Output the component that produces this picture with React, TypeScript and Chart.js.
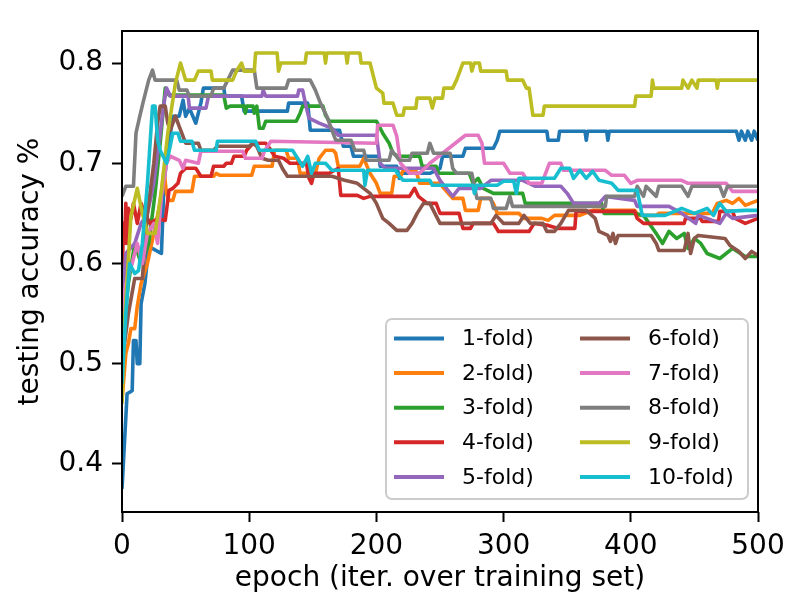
import { useEffect, useRef } from "react"
import { Chart, registerables, type ChartConfiguration, type Plugin } from "chart.js"

Chart.register(...registerables)

// [epoch, testing accuracy] breakpoints
const fold1 = [
  [0, 0.375], [4, 0.47], [8, 0.473], [9, 0.523], [11, 0.523], [12, 0.5], [14, 0.5], [15, 0.56], [18, 0.58],
  [21, 0.617], [31, 0.61], [33, 0.68], [36, 0.713], [40, 0.747], [45, 0.747], [48, 0.763], [50, 0.747],
  [53, 0.755], [58, 0.74], [62, 0.76], [64, 0.775], [80, 0.775], [81, 0.767], [94, 0.767], [96, 0.752],
  [130, 0.752], [131, 0.76], [146, 0.76], [148, 0.733], [171, 0.733], [174, 0.717], [180, 0.717],
  [182, 0.707], [202, 0.707], [203, 0.697], [216, 0.697], [218, 0.685], [220, 0.69], [242, 0.69],
  [250, 0.695], [252, 0.707], [268, 0.707], [270, 0.715], [292, 0.715], [295, 0.723], [297, 0.732],
  [334, 0.732], [335, 0.723], [343, 0.723], [344, 0.732], [364, 0.732], [365, 0.723], [366, 0.732],
  [381, 0.732], [382, 0.723], [383, 0.732], [483, 0.732], [485, 0.723], [487, 0.732], [490, 0.723],
  [492, 0.732], [495, 0.723], [497, 0.732], [500, 0.723],
]
const fold2 = [
  [0, 0.463], [3, 0.51], [5, 0.52], [7, 0.535], [10, 0.535], [12, 0.557], [15, 0.58], [20, 0.6], [25, 0.63],
  [30, 0.66], [33, 0.693], [35, 0.67], [37, 0.663], [40, 0.663], [42, 0.672], [55, 0.672], [57, 0.687],
  [72, 0.687], [74, 0.69], [77, 0.688], [102, 0.688], [104, 0.697], [118, 0.697], [120, 0.713], [129, 0.713],
  [131, 0.705], [138, 0.705], [140, 0.69], [152, 0.69], [155, 0.705], [160, 0.713], [166, 0.713], [168, 0.71],
  [170, 0.697], [187, 0.697], [190, 0.705], [195, 0.69], [200, 0.68], [203, 0.67], [212, 0.67], [214, 0.687],
  [219, 0.687], [221, 0.693], [231, 0.693], [234, 0.68], [250, 0.68], [253, 0.675], [260, 0.665], [268, 0.665],
  [270, 0.653], [280, 0.653], [282, 0.665], [289, 0.665], [292, 0.66], [295, 0.65], [312, 0.65], [316, 0.645],
  [330, 0.645], [335, 0.643], [340, 0.648], [360, 0.648], [370, 0.653], [403, 0.653], [406, 0.648],
  [420, 0.648], [422, 0.65], [464, 0.65], [468, 0.66], [475, 0.663], [480, 0.66], [485, 0.665], [490, 0.658],
  [500, 0.663],
]
const fold3 = [
  [0, 0.52], [5, 0.58], [10, 0.62], [15, 0.6], [21, 0.62], [26, 0.67], [30, 0.72], [34, 0.775], [37, 0.768],
  [80, 0.768], [82, 0.755], [85, 0.757], [96, 0.757], [97, 0.75], [98, 0.757], [103, 0.757], [104, 0.75],
  [106, 0.757], [108, 0.735], [111, 0.735], [113, 0.742], [137, 0.742], [140, 0.75], [142, 0.757],
  [158, 0.757], [160, 0.748], [163, 0.742], [200, 0.742], [205, 0.73], [210, 0.72], [213, 0.71], [217, 0.707],
  [234, 0.707], [236, 0.697], [247, 0.697], [249, 0.69], [273, 0.69], [276, 0.68], [280, 0.685], [284, 0.675],
  [292, 0.67], [315, 0.67], [317, 0.66], [377, 0.66], [379, 0.65], [403, 0.65], [410, 0.648], [420, 0.63],
  [425, 0.62], [430, 0.632], [436, 0.625], [442, 0.63], [445, 0.615], [450, 0.625], [455, 0.62], [460, 0.61],
  [470, 0.605], [480, 0.615], [490, 0.607], [500, 0.607],
]
const fold4 = [
  [0, 0.56], [1, 0.64], [2, 0.62], [3, 0.66], [4, 0.62], [5, 0.655], [7, 0.645], [9, 0.66], [12, 0.64],
  [15, 0.66], [18, 0.65], [22, 0.64], [28, 0.645], [34, 0.643], [37, 0.673], [40, 0.675], [44, 0.68],
  [46, 0.69], [50, 0.695], [58, 0.695], [62, 0.687], [70, 0.687], [72, 0.697], [80, 0.697], [82, 0.7],
  [86, 0.7], [88, 0.707], [96, 0.707], [98, 0.713], [103, 0.72], [113, 0.72], [116, 0.715], [120, 0.707],
  [127, 0.705], [132, 0.7], [145, 0.7], [147, 0.685], [149, 0.68], [151, 0.69], [163, 0.69], [170, 0.695],
  [172, 0.668], [185, 0.668], [190, 0.665], [195, 0.667], [226, 0.667], [230, 0.675], [233, 0.667],
  [240, 0.66], [247, 0.66], [250, 0.65], [265, 0.65], [268, 0.635], [274, 0.635], [276, 0.64], [292, 0.64],
  [296, 0.632], [320, 0.632], [324, 0.64], [335, 0.638], [343, 0.635], [356, 0.635], [357, 0.652],
  [403, 0.652], [405, 0.645], [410, 0.64], [442, 0.64], [443, 0.645], [455, 0.645], [456, 0.642],
  [469, 0.642], [470, 0.652], [480, 0.652], [482, 0.645], [490, 0.64], [500, 0.645],
]
const fold5 = [
  [0, 0.55], [3, 0.61], [10, 0.62], [15, 0.64], [20, 0.65], [25, 0.68], [30, 0.73], [33, 0.76], [35, 0.775],
  [38, 0.767], [52, 0.767], [53, 0.755], [66, 0.755], [68, 0.767], [110, 0.767], [111, 0.773], [113, 0.767],
  [138, 0.767], [139, 0.773], [142, 0.773], [145, 0.755], [147, 0.745], [155, 0.74], [165, 0.735],
  [170, 0.728], [200, 0.728], [203, 0.7], [207, 0.695], [245, 0.695], [250, 0.683], [255, 0.675],
  [260, 0.667], [265, 0.675], [282, 0.675], [290, 0.683], [315, 0.683], [325, 0.677], [345, 0.677],
  [350, 0.67], [355, 0.66], [375, 0.66], [380, 0.667], [403, 0.663], [405, 0.657], [430, 0.657], [440, 0.65],
  [451, 0.64], [453, 0.648], [460, 0.645], [470, 0.64], [475, 0.65], [480, 0.645], [500, 0.648],
]
const fold6 = [
  [0, 0.5], [5, 0.55], [10, 0.585], [16, 0.585], [20, 0.65], [25, 0.7], [28, 0.74], [30, 0.757], [34, 0.757],
  [36, 0.74], [38, 0.733], [42, 0.747], [44, 0.74], [47, 0.73], [50, 0.72], [60, 0.72], [62, 0.713],
  [72, 0.713], [75, 0.717], [100, 0.717], [103, 0.72], [106, 0.717], [110, 0.705], [115, 0.703], [123, 0.703],
  [126, 0.695], [130, 0.687], [165, 0.687], [175, 0.683], [185, 0.68], [195, 0.67], [200, 0.66], [205, 0.645],
  [210, 0.64], [216, 0.633], [224, 0.633], [228, 0.64], [232, 0.65], [237, 0.66], [242, 0.66], [246, 0.65],
  [250, 0.64], [290, 0.64], [294, 0.648], [300, 0.64], [312, 0.64], [316, 0.648], [321, 0.64], [331, 0.64],
  [334, 0.632], [340, 0.632], [345, 0.64], [351, 0.653], [365, 0.653], [372, 0.645], [375, 0.632],
  [382, 0.628], [384, 0.622], [386, 0.63], [388, 0.62], [390, 0.628], [416, 0.628], [420, 0.62],
  [422, 0.613], [442, 0.613], [445, 0.63], [447, 0.61], [450, 0.625], [453, 0.628], [474, 0.625],
  [478, 0.618], [485, 0.612], [490, 0.605], [495, 0.612], [500, 0.608],
]
const fold7 = [
  [0, 0.55], [3, 0.58], [8, 0.6], [12, 0.62], [16, 0.6], [20, 0.63], [25, 0.64], [28, 0.62], [31, 0.667],
  [35, 0.7], [38, 0.707], [45, 0.703], [48, 0.695], [50, 0.703], [60, 0.7], [62, 0.712], [95, 0.712],
  [97, 0.705], [110, 0.705], [112, 0.712], [117, 0.722], [200, 0.72], [201, 0.738], [213, 0.738],
  [216, 0.727], [219, 0.7], [226, 0.69], [234, 0.69], [238, 0.695], [242, 0.7], [252, 0.71], [262, 0.72],
  [270, 0.728], [280, 0.728], [283, 0.72], [285, 0.7], [300, 0.7], [305, 0.69], [315, 0.69], [320, 0.68],
  [330, 0.68], [333, 0.69], [336, 0.7], [345, 0.7], [347, 0.693], [380, 0.693], [385, 0.688], [395, 0.688],
  [400, 0.68], [405, 0.683], [440, 0.683], [445, 0.68], [475, 0.68], [480, 0.672], [500, 0.672],
]
const fold8 = [
  [0, 0.667], [3, 0.677], [9, 0.677], [11, 0.73], [14, 0.747], [17, 0.763], [21, 0.783], [24, 0.793],
  [26, 0.783], [43, 0.783], [45, 0.773], [51, 0.773], [53, 0.767], [70, 0.767], [72, 0.775], [80, 0.775],
  [87, 0.793], [104, 0.793], [106, 0.775], [129, 0.775], [131, 0.783], [148, 0.783], [152, 0.773],
  [156, 0.76], [161, 0.747], [165, 0.733], [168, 0.723], [180, 0.723], [183, 0.713], [190, 0.713],
  [192, 0.703], [210, 0.703], [212, 0.713], [218, 0.703], [226, 0.703], [228, 0.71], [240, 0.71],
  [242, 0.72], [245, 0.71], [258, 0.71], [260, 0.695], [263, 0.69], [275, 0.69], [279, 0.665], [290, 0.665],
  [292, 0.655], [302, 0.655], [305, 0.667], [307, 0.657], [380, 0.657], [381, 0.667], [403, 0.667],
  [405, 0.677], [410, 0.667], [412, 0.677], [420, 0.667], [422, 0.677], [440, 0.677], [445, 0.667],
  [448, 0.677], [470, 0.677], [473, 0.667], [476, 0.677], [500, 0.677],
]
const fold9 = [
  [0, 0.46], [2, 0.54], [7, 0.647], [12, 0.675], [16, 0.65], [20, 0.63], [26, 0.63], [31, 0.673], [36, 0.73],
  [42, 0.78], [46, 0.8], [50, 0.783], [57, 0.783], [60, 0.792], [70, 0.792], [71, 0.783], [87, 0.783],
  [90, 0.792], [94, 0.8], [96, 0.792], [104, 0.792], [105, 0.81], [122, 0.81], [123, 0.792], [125, 0.8],
  [144, 0.8], [145, 0.81], [159, 0.81], [160, 0.8], [161, 0.81], [176, 0.81], [177, 0.8], [178, 0.81],
  [187, 0.81], [188, 0.8], [195, 0.8], [200, 0.775], [205, 0.77], [206, 0.76], [213, 0.76], [216, 0.748],
  [221, 0.748], [222, 0.755], [231, 0.755], [232, 0.765], [242, 0.765], [244, 0.755], [246, 0.765],
  [252, 0.765], [253, 0.775], [260, 0.775], [263, 0.783], [268, 0.8], [274, 0.8], [275, 0.792], [277, 0.8],
  [281, 0.8], [282, 0.792], [302, 0.792], [303, 0.783], [315, 0.783], [318, 0.775], [320, 0.775],
  [323, 0.748], [331, 0.748], [332, 0.757], [403, 0.757], [404, 0.767], [416, 0.767], [417, 0.783],
  [418, 0.775], [440, 0.775], [441, 0.783], [445, 0.775], [448, 0.783], [452, 0.775], [453, 0.783],
  [467, 0.783], [468, 0.775], [469, 0.783], [500, 0.783],
]
const fold10 = [
  [0, 0.48], [3, 0.55], [6, 0.6], [10, 0.59], [13, 0.593], [16, 0.62], [20, 0.68], [24, 0.757], [26, 0.757],
  [28, 0.723], [30, 0.713], [35, 0.7], [40, 0.73], [44, 0.73], [46, 0.722], [55, 0.722], [57, 0.713],
  [74, 0.713], [75, 0.722], [105, 0.722], [108, 0.713], [134, 0.713], [138, 0.705], [142, 0.697],
  [146, 0.707], [149, 0.69], [152, 0.7], [160, 0.7], [165, 0.693], [190, 0.693], [191, 0.678], [193, 0.693],
  [215, 0.693], [218, 0.687], [221, 0.683], [242, 0.683], [244, 0.678], [276, 0.678], [277, 0.67],
  [279, 0.678], [295, 0.678], [300, 0.682], [308, 0.682], [310, 0.67], [312, 0.685], [340, 0.685],
  [345, 0.695], [352, 0.695], [355, 0.685], [360, 0.693], [365, 0.685], [370, 0.692], [375, 0.683],
  [385, 0.68], [390, 0.673], [405, 0.673], [409, 0.648], [427, 0.648], [440, 0.655], [450, 0.65],
  [460, 0.655], [465, 0.648], [470, 0.66], [475, 0.652], [490, 0.653], [500, 0.653],
]

const foldSeries = [fold1, fold2, fold3, fold4, fold5, fold6, fold7, fold8, fold9, fold10]
const foldLabels = [
  "1-fold)", "2-fold)", "3-fold)", "4-fold)", "5-fold)",
  "6-fold)", "7-fold)", "8-fold)", "9-fold)", "10-fold)",
]
const foldColors = [
  "#1f77b4", "#ff7f0e", "#2ca02c", "#d62728", "#9467bd",
  "#8c564b", "#e377c2", "#7f7f7f", "#bcbd22", "#17becf",
]
const xTicks = [0, 100, 200, 300, 400, 500]
const yTicks = [0.4, 0.5, 0.6, 0.7, 0.8]

const FONT = "'DejaVu Sans', sans-serif"

// matplotlib-like frame around the axes
const framePlugin: Plugin = {
  id: "frame",
  afterDraw(chart) {
    const { ctx, chartArea } = chart
    ctx.save()
    ctx.strokeStyle = "#000"
    ctx.lineWidth = 2
    ctx.strokeRect(chartArea.left, chartArea.top, chartArea.right - chartArea.left, chartArea.bottom - chartArea.top)
    ctx.restore()
  },
}

// two-column legend in the lower right, filled column first
const legendPlugin: Plugin = {
  id: "foldLegend",
  afterDraw(chart) {
    const { ctx, chartArea } = chart
    const w = 362
    const h = 180
    const x0 = chartArea.right - 10 - w
    const y0 = chartArea.bottom - 13 - h
    ctx.save()
    ctx.beginPath()
    ctx.roundRect(x0, y0, w, h, 6)
    ctx.fillStyle = "rgba(255,255,255,0.8)"
    ctx.fill()
    ctx.strokeStyle = "#cccccc"
    ctx.lineWidth = 2
    ctx.stroke()
    ctx.font = `22px ${FONT}`
    ctx.textBaseline = "middle"
    chart.data.datasets.forEach((ds, i) => {
      const col = Math.floor(i / 5)
      const row = i % 5
      const lx = x0 + 8 + col * 186
      const ly = y0 + 19.5 + row * 34.6
      ctx.beginPath()
      ctx.moveTo(lx, ly)
      ctx.lineTo(lx + 50, ly)
      ctx.strokeStyle = ds.borderColor as string
      ctx.lineWidth = 4
      ctx.stroke()
      ctx.fillStyle = "#000"
      ctx.fillText(ds.label ?? "", lx + 68, ly + 1)
    })
    ctx.restore()
  },
}

export default function App() {
  const canvasRef = useRef<HTMLCanvasElement>(null)

  useEffect(() => {
    document.body.style.margin = "0"
    if (!canvasRef.current) return

    const config: ChartConfiguration<"line"> = {
      type: "line",
      data: {
        datasets: foldSeries.map((series, i) => ({
          label: foldLabels[i],
          data: series.map(([x, y]) => ({ x, y })),
          borderColor: foldColors[i],
          backgroundColor: foldColors[i],
          borderWidth: 3.6,
          borderJoinStyle: "round",
          pointRadius: 0,
          tension: 0,
          fill: false,
          order: foldSeries.length - i,
        })),
      },
      options: {
        responsive: false,
        animation: false,
        layout: { padding: { top: 31, right: 42, left: 0, bottom: 0 } },
        plugins: {
          legend: { display: false },
          tooltip: { enabled: false },
        },
        scales: {
          x: {
            type: "linear",
            min: 0,
            max: 500,
            afterFit: (scale) => {
              scale.height = 88
            },
            afterBuildTicks: (scale) => {
              scale.ticks = xTicks.map((value) => ({ value }))
            },
            grid: { drawOnChartArea: false, drawTicks: true, tickLength: 10, tickWidth: 2, tickColor: "#000" },
            border: { display: false },
            ticks: {
              color: "#000",
              font: { family: FONT, size: 28 },
              padding: 8,
              maxRotation: 0,
            },
            title: {
              display: true,
              text: "epoch (iter. over training set)",
              color: "#000",
              font: { family: FONT, size: 28 },
              padding: { top: 0, bottom: 4 },
            },
          },
          y: {
            type: "linear",
            min: 0.352,
            max: 0.832,
            afterFit: (scale) => {
              scale.width = 122
            },
            afterBuildTicks: (scale) => {
              scale.ticks = yTicks.map((value) => ({ value }))
            },
            grid: { drawOnChartArea: false, drawTicks: true, tickLength: 10, tickWidth: 2, tickColor: "#000" },
            border: { display: false },
            ticks: {
              color: "#000",
              font: { family: FONT, size: 28 },
              padding: 9,
              callback: (value) => Number(value).toFixed(1),
            },
            title: {
              display: true,
              text: "testing accuracy %",
              color: "#000",
              font: { family: FONT, size: 28 },
              padding: { top: 14, bottom: 0 },
            },
          },
        },
      },
      plugins: [framePlugin, legendPlugin],
    }

    const chart = new Chart(canvasRef.current, config)
    return () => chart.destroy()
  }, [])

  return (
    <div style={{ width: 800, height: 600 }}>
      <canvas ref={canvasRef} width={800} height={600} />
    </div>
  )
}
